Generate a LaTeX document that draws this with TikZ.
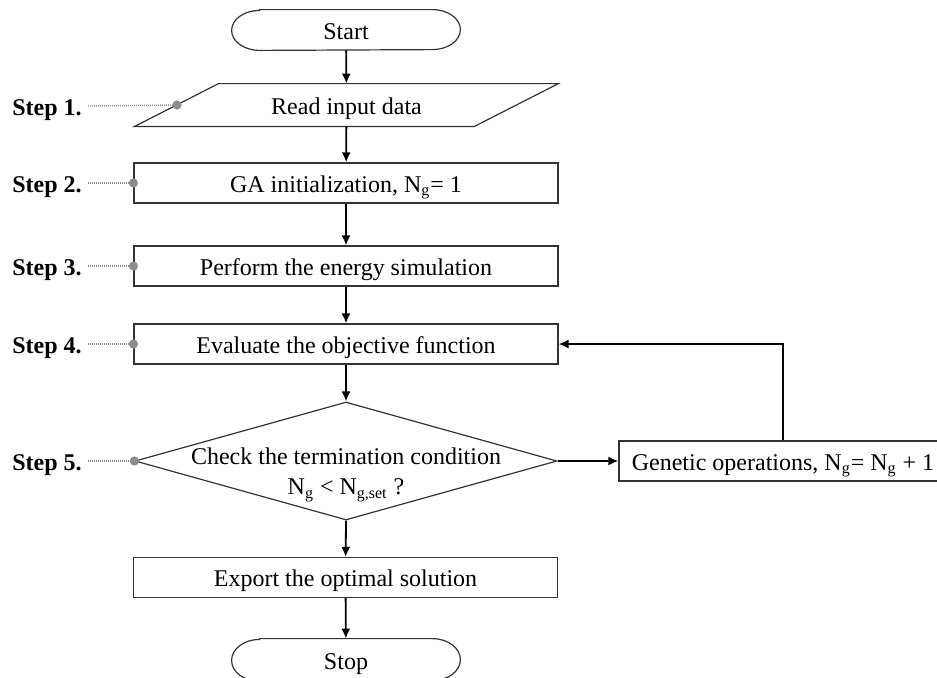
\documentclass[tikz,border=0pt]{standalone}
\usepackage{fontspec}
\setmainfont{Liberation Serif}
\usetikzlibrary{arrows.meta,shapes.geometric}
\definecolor{boxline}{HTML}{333333}
\definecolor{leadgrey}{HTML}{8C8C8C}
\begin{document}
\begin{tikzpicture}[x=0.5pt,y=-0.5pt,
  font=\fontsize{12pt}{14pt}\selectfont,
  txt/.style={text height=9.2pt,text depth=0pt},
  boxnode/.style={txt,draw=boxline,line width=0.6pt,minimum width=212pt,minimum height=20pt,inner sep=0pt},
  plainnode/.style={txt,draw=none,inner sep=0pt},
  shapeline/.style={draw=boxline,line width=0.6pt},
  flowarrow/.style={line width=0.9pt,-{Latex[length=5pt,width=4.5pt]}},
  steplabel/.style={txt,anchor=west,inner sep=0pt,font=\fontsize{12pt}{14pt}\selectfont\bfseries},
  leader/.style={draw=leadgrey,line width=0.7pt,dash pattern=on 0.45pt off 0.55pt},
  leaddot/.style={fill=leadgrey,draw=none}]
\useasboundingbox (0,0) rectangle (937,677);
% nodes
\node[plainnode,minimum width=114pt,minimum height=20pt] (start) at (346,30) {Start};
\node[plainnode,minimum width=169.5pt,minimum height=21pt] (read) at (346.5,105) {Read input data};
\node[boxnode] (init) at (346,183) {GA initialization, N\textsubscript{g}= 1};
\node[boxnode] (sim) at (346,266) {Perform the energy simulation};
\node[boxnode] (eval) at (346,344) {Evaluate the objective function};
\node[diamond,shapeline,minimum width=211pt,minimum height=59pt,inner sep=0pt] (chk) at (346,461) {};
\node[draw=none,inner sep=0pt,align=center,font=\fontsize{12pt}{15pt}\selectfont] (chktext) at (346,475)
  {Check the termination condition\\ N\textsubscript{g} {<} N\textsubscript{g,set} ?};
\node[txt,draw=boxline,line width=0.6pt,minimum width=164pt,minimum height=20pt,inner sep=0pt] (gen) at (783,461)
  {Genetic operations, N\textsubscript{g}= N\textsubscript{g} + 1};
\node[boxnode] (export) at (345.5,577.5) {Export the optimal solution};
\node[plainnode,minimum width=114pt,minimum height=21pt] (stop) at (346,660) {Stop};
% terminal shapes
\draw[shapeline] ([xshift=14pt]start.north west) -- ([xshift=-14pt]start.north east)
  arc[start angle=90,end angle=-90,x radius=14pt,y radius=10pt]
  -- ([xshift=14pt]start.south west)
  arc[start angle=270,end angle=90,x radius=14pt,y radius=10pt] -- cycle;
\draw[shapeline] ([xshift=14pt]stop.north west) -- ([xshift=-14pt]stop.north east)
  arc[start angle=90,end angle=-90,x radius=14pt,y radius=10.5pt]
  -- ([xshift=14pt]stop.south west)
  arc[start angle=270,end angle=90,x radius=14pt,y radius=10.5pt] -- cycle;
% parallelogram
\draw[shapeline] ([xshift=21pt]read.north west) -- ([xshift=21pt]read.north east)
  -- ([xshift=-21pt]read.south east) -- ([xshift=-21pt]read.south west) -- cycle;
\coordinate (readleft) at (177,105);
% flow arrows
\draw[flowarrow] (start) -- (read);
\draw[flowarrow] (read) -- (init);
\draw[flowarrow] (init) -- (sim);
\draw[flowarrow] (sim) -- (eval);
\draw[flowarrow] (eval) -- (chk);
\draw[flowarrow] (chk.east) -- (gen.west);
\draw[flowarrow] (gen.north) |- (eval.east);
\draw[flowarrow] (chk.south) -- (export);
\draw[flowarrow] (export) -- (stop);
% step labels
\node[steplabel] (s1) at (12,106) {Step 1.};
\node[steplabel] (s2) at (12,183) {Step 2.};
\node[steplabel] (s3) at (12,266) {Step 3.};
\node[steplabel] (s4) at (12,344) {Step 4.};
\node[steplabel] (s5) at (12,461) {Step 5.};
\draw[leader] ([xshift=3pt]s1.east) -- (readleft);
\draw[leader] ([xshift=3pt]s2.east) -- (init.west);
\draw[leader] ([xshift=3pt]s3.east) -- (sim.west);
\draw[leader] ([xshift=3pt]s4.east) -- (eval.west);
\draw[leader] ([xshift=3pt]s5.east) -- (chk.west);
\fill[leaddot] (readleft) circle[radius=2.3pt];
\fill[leaddot] (init.west) circle[radius=2.3pt];
\fill[leaddot] (sim.west) circle[radius=2.3pt];
\fill[leaddot] (eval.west) circle[radius=2.3pt];
\fill[leaddot] (chk.west) circle[radius=2.3pt];
\end{tikzpicture}
\end{document}
